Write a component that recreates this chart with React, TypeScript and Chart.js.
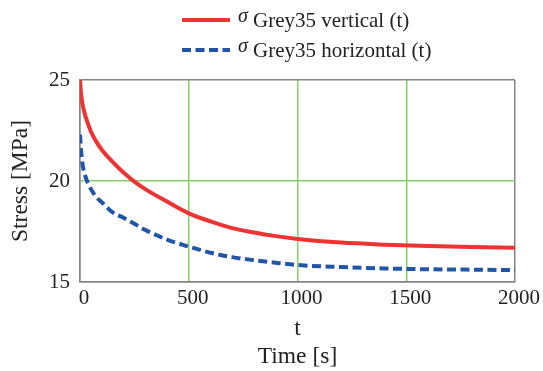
import React, { useEffect, useRef } from "react";
import { Chart, registerables } from "chart.js";

Chart.register(...registerables);

const times = [0, 5, 10, 20, 38, 50, 75, 100, 150, 200, 250, 300, 400, 500, 600, 700, 800, 900, 1000, 1200, 1400, 1600, 1800, 2000];
const verticalStress = [25.0, 24.3, 23.9, 23.4, 22.8, 22.45, 21.95, 21.55, 20.95, 20.42, 19.97, 19.6, 18.98, 18.4, 18.0, 17.67, 17.45, 17.27, 17.13, 16.95, 16.85, 16.78, 16.73, 16.7];
const horizontalStress = [22.3, 21.5, 20.95, 20.4, 19.85, 19.6, 19.2, 18.95, 18.45, 18.18, 17.88, 17.58, 17.1, 16.75, 16.45, 16.23, 16.08, 15.95, 15.84, 15.74, 15.67, 15.63, 15.61, 15.59];
const seriesLabels = ["Grey35 vertical (t)", "Grey35 horizontal (t)"];
const xTitle = ["t", "Time [s]"];
const yTitle = "Stress [MPa]";

const RED = "#ee3333";
const BLUE = "#2255a8";
const GREEN = "#86cf66";
const GRAY = "#858585";
const FONT = "'Liberation Serif', 'Times New Roman', serif";

const legendPlugin = {
  id: "customLegend",
  afterDraw(chart: any) {
    const ctx = chart.ctx;
    const rows = [
      { y: 20, color: RED, dash: [] as number[], label: seriesLabels[0] },
      { y: 50, color: BLUE, dash: [9, 4.5], label: seriesLabels[1] },
    ];
    ctx.save();
    rows.forEach((r) => {
      ctx.beginPath();
      ctx.strokeStyle = r.color;
      ctx.lineWidth = 4;
      ctx.setLineDash(r.dash);
      ctx.moveTo(182, r.y);
      ctx.lineTo(230, r.y);
      ctx.stroke();
      ctx.setLineDash([]);
      ctx.fillStyle = "#222";
      ctx.textBaseline = "middle";
      ctx.textAlign = "left";
      ctx.font = `italic 20px ${FONT}`;
      ctx.fillText("σ", 238, r.y - 3);
      ctx.font = `21px ${FONT}`;
      ctx.fillText(r.label, 253, r.y + 1);
    });
    ctx.restore();
  },
};

export default function App() {
  const ref = useRef<HTMLCanvasElement>(null);
  useEffect(() => {
    if (!ref.current) return;
    const chart = new Chart(ref.current, {
      type: "line",
      data: {
        datasets: [
          {
            label: seriesLabels[0],
            data: times.map((t, i) => ({ x: t, y: verticalStress[i] })),
            borderColor: RED,
            borderWidth: 4,
            pointRadius: 0,
            cubicInterpolationMode: "monotone",
            fill: false,
          },
          {
            label: seriesLabels[1],
            data: times.map((t, i) => ({ x: t, y: horizontalStress[i] })),
            borderColor: BLUE,
            borderWidth: 4,
            borderDash: [9, 4.5],
            pointRadius: 0,
            cubicInterpolationMode: "monotone",
            fill: false,
          },
        ],
      },
      options: {
        animation: false,
        responsive: false,
        layout: { padding: { top: 80, right: 28, left: 0, bottom: 0 } },
        plugins: { legend: { display: false }, tooltip: { enabled: false } },
        scales: {
          x: {
            type: "linear",
            min: 0,
            max: 2000,
            ticks: {
              stepSize: 500,
              padding: 4,
              labelOffset: 4,
              color: "#222",
              font: { family: FONT, size: 21 },
              callback: (v: any) => String(v),
            },
            grid: {
              drawTicks: false,
              lineWidth: 1.5,
              color: (c: any) => (c.tick && (c.tick.value === 0 || c.tick.value === 2000) ? GRAY : GREEN),
            },
            border: { display: true, color: GRAY, width: 1.5 },
            title: {
              display: true,
              text: xTitle,
              color: "#222",
              font: { family: FONT, size: 23.5, lineHeight: 1.2 },
              padding: { top: 0, bottom: 0 },
            },
            afterFit: (s: any) => {
              s.height = 89;
            },
          },
          y: {
            min: 15,
            max: 25,
            ticks: {
              stepSize: 5,
              padding: 10,
              color: "#222",
              font: { family: FONT, size: 21 },
              callback: (v: any) => String(v),
            },
            grid: {
              drawTicks: false,
              lineWidth: 1.5,
              color: (c: any) => (c.tick && (c.tick.value === 15 || c.tick.value === 25) ? GRAY : GREEN),
            },
            border: { display: true, color: GRAY, width: 1.5 },
            title: {
              display: true,
              text: yTitle,
              color: "#222",
              font: { family: FONT, size: 23.5, lineHeight: 1.2 },
              padding: { top: 7, bottom: 0 },
            },
            afterFit: (s: any) => {
              s.width = 80;
            },
          },
        },
      },
      plugins: [legendPlugin],
    } as any);
    return () => chart.destroy();
  }, []);
  return (
    <div style={{ position: "fixed", left: 0, top: 0, width: 543, height: 371, background: "#fff" }}>
      <canvas ref={ref} width={543} height={371} style={{ display: "block" }} />
    </div>
  );
}
